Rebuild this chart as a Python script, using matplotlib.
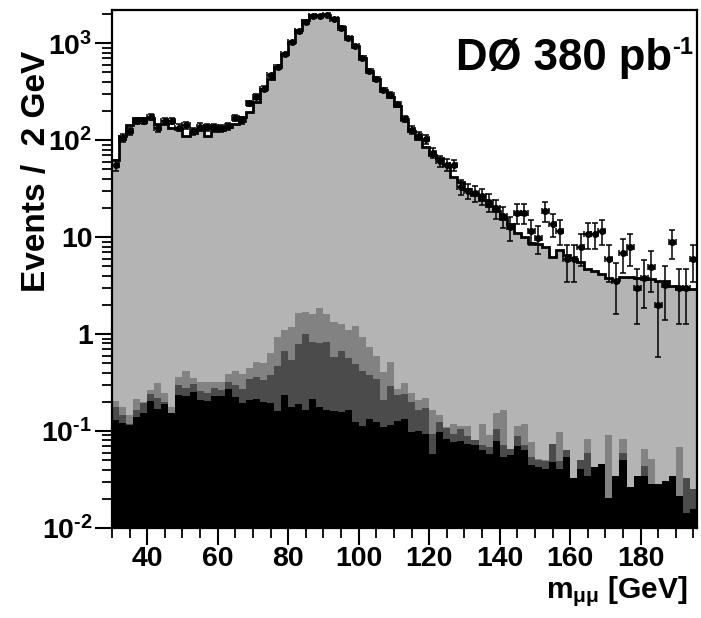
import numpy as np
import matplotlib
matplotlib.use('Agg')
import matplotlib.pyplot as plt
from matplotlib.ticker import MultipleLocator, LogLocator, FixedLocator, FixedFormatter, NullFormatter

plt.rcParams['font.family'] = ['Liberation Sans', 'DejaVu Sans']
plt.rcParams['font.weight'] = 'bold'
plt.rcParams['mathtext.fontset'] = 'custom'
plt.rcParams['mathtext.rm'] = 'Liberation Sans:bold'
plt.rcParams['mathtext.it'] = 'Liberation Sans:bold'
plt.rcParams['mathtext.bf'] = 'Liberation Sans:bold'

# 2 GeV bins from 30 to 196 GeV
bin_lo = 30
bin_hi = 196
bin_w = 2

# data (events per bin)
data = [55, 105, 123, 158, 158, 173, 132, 158, 158, 135,
        142, 123, 138, 136, 136, 133, 140, 170, 160, 240,
        280, 340, 465, 570, 770, 1030, 1330, 1670, 1920, 1920,
        1950, 1780, 1450, 1130, 930, 710, 515, 425, 330, 294,
        235, 166, 128, 110, 102, 74, 61, 56, 55, 33,
        30, 28.6, 26.5, 22.9, 19.8, 16.5, 12.7, 17.8, 17.8, 11.7,
        9.9, 18.8, 13.7, 11.7, 5.9, 5.9, 7.9, 10.8, 10.8, 11.7,
        5.9, 3.5, 6.9, 7.9, 3.0, 3.8, 4.9, 2.0, 3.2, 8.9,
        3.0, 3.0, 5.9]

# total expectation (Z/gamma* -> mumu dominated)
mc_total = [63, 110, 145, 169, 169, 169, 146, 146, 135, 135,
            110, 118, 126, 110, 123, 128, 137, 148, 174, 195,
            250, 340, 430, 570, 770, 1040, 1360, 1740, 1960, 1960,
            1960, 1820, 1480, 1160, 930, 700, 520, 430, 330, 280,
            225, 165, 125, 103, 85, 70, 65, 56, 42, 37,
            31, 27, 24, 21, 18.5, 15.5, 13.5, 11, 10, 8.8,
            8.4, 8.0, 6.3, 7.3, 6.6, 6.0, 5.5, 4.7, 4.5, 4.2,
            3.8, 3.6, 3.9, 3.9, 3.8, 3.8, 3.7, 3.5, 3.5, 3.1,
            3.0, 2.9, 2.9]

# stacked backgrounds (cumulative heights)
stack_mid = [0.204, 0.177, 0.147, 0.215, 0.198, 0.262, 0.314, 0.248, 0.177, 0.365,
             0.414, 0.351, 0.319, 0.319, 0.324, 0.319, 0.389, 0.414, 0.389, 0.444,
             0.52, 0.505, 0.634, 0.925, 1.10, 1.17, 1.65, 1.70, 1.61, 1.85,
             1.61, 1.32, 1.27, 1.11, 1.22, 0.925, 0.73, 0.60, 0.41, 0.51,
             0.27, 0.311, 0.246, 0.207, 0.218, 0.163, 0.147, 0.110, 0.117, 0.112,
             0.113, 0.080, 0.117, 0.092, 0.153, 0.163, 0.065, 0.112, 0.117, 0.077,
             0.052, 0.050, 0.074, 0.098, 0.0634, 0.0324, 0.050, 0.0835, 0.0427, 0.0462,
             0.090, 0.0345, 0.0835, 0.0262, 0.0342, 0.066, 0.052, 0.0283, 0.0306, 0.0342,
             0.0685, 0.0324, 0.025]

stack_dark = [0.179, 0.145, 0.119, 0.166, 0.194, 0.242, 0.220, 0.198, 0.155, 0.295,
              0.279, 0.307, 0.256, 0.248, 0.279, 0.262, 0.319, 0.295, 0.272, 0.345,
              0.359, 0.337, 0.374, 0.473, 0.675, 0.542, 0.79, 1.00, 0.836, 0.81,
              0.836, 0.577, 0.664, 0.568, 0.492, 0.421, 0.374, 0.345, 0.207, 0.288,
              0.233, 0.242, 0.199, 0.163, 0.174, 0.094, 0.124, 0.108, 0.094, 0.104,
              0.089, 0.080, 0.0713, 0.0685, 0.106, 0.0725, 0.0649, 0.088, 0.0713, 0.054,
              0.050, 0.0488, 0.074, 0.0488, 0.0634, 0.0324, 0.050, 0.0594, 0.0427, 0.0462,
              0.0202, 0.0345, 0.0594, 0.0262, 0.0342, 0.0434, 0.0283, 0.0283, 0.0306, 0.0342,
              0.0215, 0.0324, 0.025]

stack_black = [0.129, 0.121, 0.115, 0.139, 0.155, 0.204, 0.170, 0.191, 0.155, 0.233,
               0.229, 0.252, 0.210, 0.204, 0.228, 0.229, 0.272, 0.224, 0.195, 0.207,
               0.215, 0.198, 0.195, 0.161, 0.233, 0.177, 0.191, 0.163, 0.212, 0.177,
               0.163, 0.160, 0.158, 0.163, 0.124, 0.113, 0.134, 0.124, 0.110, 0.115,
               0.126, 0.132, 0.098, 0.100, 0.094, 0.0586, 0.098, 0.0835, 0.077, 0.079,
               0.074, 0.0725, 0.0634, 0.0586, 0.0785, 0.054, 0.0563, 0.070, 0.0634, 0.0444,
               0.0427, 0.0404, 0.048, 0.0402, 0.054, 0.0324, 0.0404, 0.0342, 0.0421, 0.0462,
               0.0202, 0.0345, 0.0508, 0.0262, 0.0342, 0.0342, 0.0283, 0.0283, 0.0306, 0.0342,
               0.0215, 0.0142, 0.0157]

y_ticks = [0.01, 0.1, 1, 10, 100, 1000]
y_ticklabels = ['10$^{\u2010 2}$', '10$^{\u2010 1}$', '1', '10', '10$^{2}$', '10$^{3}$']

edges = np.arange(bin_lo, bin_hi + bin_w, bin_w)
centers = edges[:-1] + bin_w / 2
data = np.array(data, dtype=float)

fig = plt.figure(figsize=(7.01, 6.18), dpi=100)
ax = fig.add_axes([112/701, 1-528/618, 585/701, 518/618])

ax.stairs(mc_total, edges, fill=True, color='#b4b4b4', baseline=1e-4)
ax.stairs(stack_mid, edges, fill=True, color='#828282', baseline=1e-4)
ax.stairs(stack_dark, edges, fill=True, color='#4b4b4b', baseline=1e-4)
ax.stairs(stack_black, edges, fill=True, color='black', baseline=1e-4)
ax.stairs(mc_total, edges, color='black', lw=2, baseline=None)

yerr_lo = np.minimum(np.sqrt(data), data * 0.999)
ax.errorbar(centers, data, xerr=bin_w/2, yerr=[yerr_lo, np.sqrt(data)],
            fmt='o', ms=4, color='black', mfc='black', elinewidth=1.1, capsize=2.5,
            capthick=1.1, zorder=5)

ax.set_yscale('log')
ax.set_xlim(bin_lo, bin_hi)
ax.set_ylim(0.01, 2200)

ax.xaxis.set_major_locator(MultipleLocator(20))
ax.xaxis.set_minor_locator(MultipleLocator(5))
ax.yaxis.set_major_locator(FixedLocator(y_ticks))
ax.yaxis.set_major_formatter(FixedFormatter(y_ticklabels))
ax.yaxis.set_minor_locator(LogLocator(base=10, subs=np.arange(2, 10)))
ax.yaxis.set_minor_formatter(NullFormatter())

ax.tick_params(axis='both', which='major', direction='out', length=12, width=1.5,
               labelsize=20.5, pad=2)
ax.tick_params(axis='both', which='minor', direction='out', length=7, width=1.3)
ax.tick_params(axis='x', which='major', pad=1)
ax.tick_params(top=False, right=False, which='both')
for lab in ax.get_xticklabels() + ax.get_yticklabels():
    lab.set_fontweight('bold')
for s in ax.spines.values():
    s.set_linewidth(1.6)

fig.text(37/701, 1-171/618, 'Events /  2 GeV', rotation=90, ha='center', va='center',
         fontsize=24, fontweight='bold')
fig.text(688/701, 1-598/618, r'm$_{\mu\mu}$ [GeV]', ha='right', va='baseline',
         fontsize=21.5, fontweight='bold')
fig.text(672/701, 1-70/618, 'DØ 380 pb', ha='right', va='baseline',
         fontsize=31.5, fontweight='bold')
fig.text(693/701, 1-36/618, '-1', ha='right', va='top',
         fontsize=17, fontweight='bold')

fig.savefig('out.png', dpi=100)
